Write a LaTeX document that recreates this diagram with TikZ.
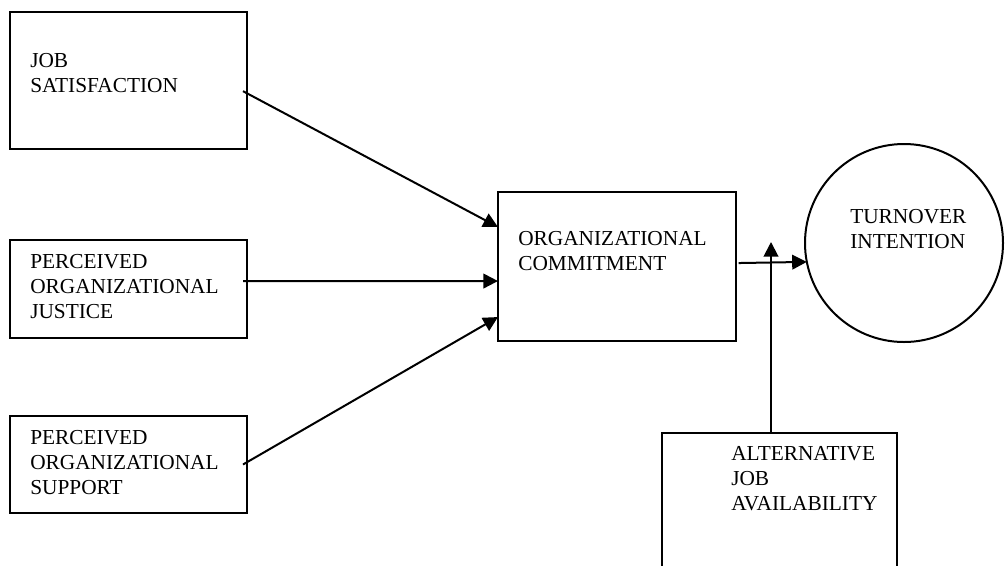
\documentclass[tikz,border=0pt]{standalone}
\usepackage{fontspec}
\setmainfont{Liberation Serif}
\usepackage{tikz}
\usetikzlibrary{shapes}
\usetikzlibrary{arrows.meta}
\tikzset{
    varbox/.style = {rectangle, draw=black, line width=1.5pt, inner sep=0pt, outer sep=0pt},
    varcirc/.style = {circle, draw=black, line width=1.5pt, inner sep=0pt, outer sep=0pt, minimum size=148.5pt},
    vartext/.style = {anchor=base west, align=left, inner sep=0pt, font=\fontsize{16pt}{18.4pt}\selectfont},
    edgea/.style = {-{Triangle[length=11pt,width=11pt]}, line width=1.5pt},
}

\begin{document}
\begin{tikzpicture}[x=0.75pt,y=-0.75pt]
  \useasboundingbox (0,0) rectangle (1005,565);
  % boxes
  \node[varbox, minimum width=177.75pt, minimum height=102.75pt] at (128.5,80.5) (js) {};
  \node[varbox, minimum width=177.75pt, minimum height=73.5pt] at (128.5,289) (poj) {};
  \node[varbox, minimum width=177.75pt, minimum height=72.75pt] at (128.5,464.5) (pos) {};
  \node[varbox, minimum width=178.5pt, minimum height=111.75pt] at (617,266.5) (oc) {};
  \node[varbox, minimum width=176.25pt, minimum height=125.25pt] at (779.5,516.5) (aja) {};
  \node[varcirc] at (904,243) (ti) {};

  % texts (placed by last baseline)
  \node[vartext] at (30,92) (jst) {JOB\\SATISFACTION};
  \node[vartext] at (30,318) (pojt) {PERCEIVED\\ORGANIZATIONAL\\JUSTICE};
  \node[vartext] at (30,494) (post) {PERCEIVED\\ORGANIZATIONAL\\SUPPORT};
  \node[vartext] at (518,270) (oct) {ORGANIZATIONAL\\COMMITMENT};
  \node[vartext] at (850,248) (tit) {TURNOVER\\INTENTION};
  \node[vartext] at (731,510) (ajat) {ALTERNATIVE\\JOB\\AVAILABILITY};

  % arrows
  \coordinate (mod) at (771,242);
  \draw[edgea] ([xshift=-3pt,yshift=-8pt]js.east) -- ([yshift=29.6pt]oc.west);
  \draw[edgea] ([xshift=-3pt,yshift=6pt]poj.east) -- ([yshift=-10.9pt]oc.west);
  \draw[edgea] ([xshift=-3pt]pos.east) -- ([yshift=-37.9pt]oc.west);
  \draw[edgea] ([xshift=2pt,yshift=2.6pt]oc.east) -- (ti.191);
  \draw[edgea] ([xshift=-6.375pt]aja.north) -- (mod);
\end{tikzpicture}
\end{document}
